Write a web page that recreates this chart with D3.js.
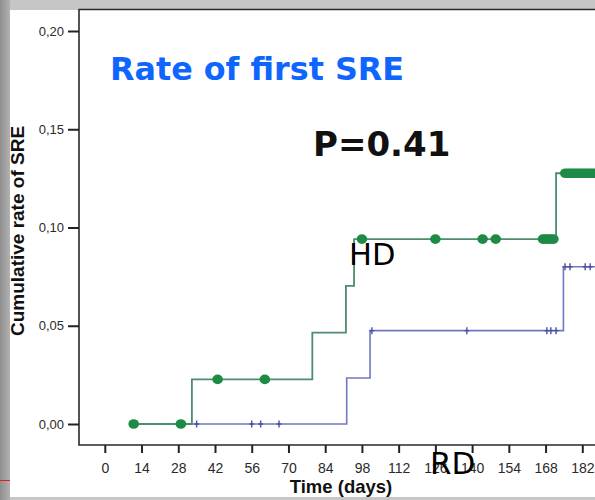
<!DOCTYPE html>
<html>
<head>
<meta charset="utf-8">
<script src="https://cdn.jsdelivr.net/npm/d3@7/dist/d3.min.js"></script>
<style>
  html, body { margin: 0; padding: 0; background: #c6c6c6; }
  svg { display: block; }
</style>
</head>
<body>
<svg id="chart" width="595" height="500"></svg>
<script>
// Time axis (days) and cumulative-rate axis ticks
const xTicks = [0, 14, 28, 42, 56, 70, 84, 98, 112, 126, 140, 154, 168, 182];
const yTicks = [0.00, 0.05, 0.10, 0.15, 0.20];

// HD group: step curve as [day, cumulative rate] corner points
const hdDays  = [11, 33.2, 79.1, 91.9, 95.0, 172.0, 200];
const hdRates = [0, 0.0227, 0.0465, 0.0703, 0.0941, 0.1276, 0.1276];
// HD censored observations (days)
const hdCensored = [11, 29, 43, 61, 98, 126, 144, 149, 167, 168, 169, 170, 171,
  175.5, 176.5, 177.5, 178.5, 179.5, 180.5, 181.5, 182.5, 183.5, 184.5, 185.5, 186.5, 187.5, 188.5, 189.5];

// RD group
const rdDays  = [11, 92.2, 101.1, 174.8, 200];
const rdRates = [0, 0.0234, 0.0475, 0.0800, 0.0800];
const rdCensored = [35, 56, 59.4, 66.4, 101.8, 138, 168.5, 170, 172, 175.4, 177.3, 183.1, 185];

const svg = d3.select("#chart");

// page backdrop: grey frame with a white panel
const defs = svg.append("defs");
const grad = defs.append("linearGradient").attr("id", "sideShade")
  .attr("x1", "0").attr("x2", "1").attr("y1", "0").attr("y2", "0");
grad.append("stop").attr("offset", "0%").attr("stop-color", "#8e8e8e");
grad.append("stop").attr("offset", "100%").attr("stop-color", "#b2b2b2");
svg.append("rect").attr("x", 0).attr("y", 0).attr("width", 595).attr("height", 500).attr("fill", "#c6c6c6");
svg.append("rect").attr("x", 0).attr("y", 0).attr("width", 10).attr("height", 500).attr("fill", "url(#sideShade)");
svg.append("rect").attr("x", 10).attr("y", 10).attr("width", 585).attr("height", 487).attr("fill", "#ffffff");
svg.append("line").attr("x1", 0).attr("x2", 10).attr("y1", 480.5).attr("y2", 480.5)
  .attr("stroke", "#e02020").attr("stroke-width", 1);

const x = d3.scaleLinear().domain([0, 182]).range([104.8, 582.3]);
const y = d3.scaleLinear().domain([0, 0.2]).range([424, 31]);

const frameL = 79, frameT = 9.5, frameB = 445, frameR = 595;

// plot frame
svg.append("path")
  .attr("d", `M${frameR},${frameT}H${frameL}V${frameB}H${frameR}`)
  .attr("fill", "none").attr("stroke", "#2a2a2a").attr("stroke-width", 1.6);

// y axis
const yAxis = svg.append("g").attr("transform", `translate(${frameL},0)`)
  .call(d3.axisLeft(y).tickValues(yTicks).tickSize(11).tickPadding(4)
    .tickFormat(d => d3.format(".2f")(d).replace(".", ",")));
yAxis.select(".domain").remove();
yAxis.selectAll(".tick line").attr("stroke", "#222").attr("stroke-width", 2);
yAxis.selectAll(".tick text").attr("fill", "#2a2a2a")
  .style("font-family", "'Liberation Sans', Arial, sans-serif").style("font-size", "13px");

// x axis
const xAxis = svg.append("g").attr("transform", `translate(0,${frameB})`)
  .call(d3.axisBottom(x).tickValues(xTicks).tickSize(8));
xAxis.select(".domain").remove();
xAxis.selectAll(".tick line").attr("stroke", "#222").attr("stroke-width", 2);
xAxis.selectAll(".tick text").attr("fill", "#2a2a2a").attr("y", 28).attr("dy", 0)
  .style("font-family", "'Liberation Sans', Arial, sans-serif").style("font-size", "14px");

// axis titles
svg.append("text").attr("x", 341).attr("y", 493).attr("text-anchor", "middle")
  .style("font-family", "'Liberation Sans', Arial, sans-serif").style("font-weight", "bold")
  .style("font-size", "18.5px").attr("fill", "#111").text("Time (days)");
svg.append("text").attr("transform", "translate(24,231) rotate(-90)").attr("text-anchor", "middle")
  .style("font-family", "'Liberation Sans', Arial, sans-serif").style("font-weight", "bold")
  .style("font-size", "19px").attr("fill", "#111").text("Cumulative rate of SRE");

// clip curves to the plotting area
defs.append("clipPath").attr("id", "plotClip")
  .append("rect").attr("x", frameL).attr("y", frameT).attr("width", frameR - frameL).attr("height", frameB - frameT);
const plot = svg.append("g").attr("clip-path", "url(#plotClip)");

const step = d3.line().x(d => x(d[0])).y(d => y(d[1])).curve(d3.curveStepAfter);
const rdPts = rdDays.map((d, i) => [d, rdRates[i]]);
const hdPts = hdDays.map((d, i) => [d, hdRates[i]]);

// value of a step curve at a given day
function rateAt(days, rates, t) {
  let v = rates[0];
  for (let i = 0; i < days.length; i++) if (days[i] <= t) v = rates[i];
  return v;
}

// RD curve and censor crosses
plot.append("path").attr("d", step(rdPts)).attr("fill", "none")
  .attr("stroke", "#6f78c0").attr("stroke-width", 1.6);
plot.selectAll(".rdc").data(rdCensored).join("path").attr("class", "rdc")
  .attr("d", d => {
    const cx = x(d), cy = y(rateAt(rdDays, rdRates, d));
    return `M${cx - 2.5},${cy}H${cx + 2.5}M${cx},${cy - 3.5}V${cy + 3.5}`;
  })
  .attr("stroke", "#4650a6").attr("stroke-width", 1.4).attr("fill", "none");

// HD curve and censor dots
plot.append("path").attr("d", step(hdPts)).attr("fill", "none")
  .attr("stroke", "#4b8d6c").attr("stroke-width", 1.8);
plot.selectAll(".hdc").data(hdCensored).join("ellipse").attr("class", "hdc")
  .attr("cx", d => x(d)).attr("cy", d => y(rateAt(hdDays, hdRates, d)))
  .attr("rx", 5.3).attr("ry", 4.8).attr("fill", "#1d8a45");

// annotations
svg.append("text").attr("x", 110).attr("y", 80)
  .style("font-family", "'DejaVu Sans', Verdana, sans-serif").style("font-weight", "bold")
  .style("font-size", "31.8px").attr("fill", "#0f66ff").text("Rate of first SRE");
svg.append("text").attr("x", 313).attr("y", 156)
  .style("font-family", "'DejaVu Sans', Verdana, sans-serif").style("font-weight", "bold")
  .style("font-size", "34px").attr("fill", "#111").text("P=0.41");
svg.append("text").attr("x", 349).attr("y", 265)
  .style("font-family", "'DejaVu Sans', Verdana, sans-serif")
  .style("font-size", "30.5px").attr("fill", "#000").text("HD");
svg.append("text").attr("x", 430).attr("y", 474)
  .style("font-family", "'DejaVu Sans', Verdana, sans-serif")
  .style("font-size", "31px").attr("fill", "#000").text("RD");
</script>
</body>
</html>
